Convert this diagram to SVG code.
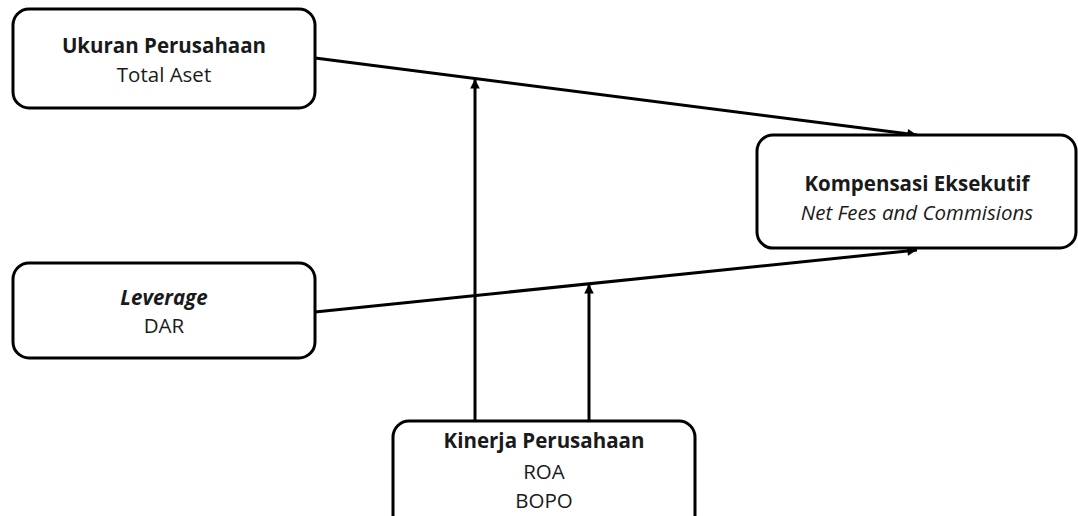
<svg xmlns="http://www.w3.org/2000/svg" width="1078" height="516" viewBox="0 0 1078 516">
<style>
.box{fill:#fff;stroke:#000;stroke-width:3}
.t{font-family:"Open Sans","Liberation Sans",sans-serif;font-size:20.5px;fill:#1a1a1a;text-anchor:middle}
.b{font-weight:bold}
.i{font-style:italic}
.c{fill:none;stroke:#000;stroke-width:3}
</style>
<defs>
<marker id="ah" viewBox="0 0 10 10" refX="10" refY="5" markerWidth="4" markerHeight="3.2" markerUnits="strokeWidth" orient="auto">
<path d="M0,0 L10,5 L0,10 Z" fill="#000"/>
</marker>
</defs>
<rect width="1078" height="516" fill="#fff"/>
<g id="connectors">
<line class="c" x1="315" y1="58" x2="917" y2="135" marker-end="url(#ah)"/>
<line class="c" x1="315" y1="312" x2="917" y2="250" marker-end="url(#ah)"/>
<line class="c" x1="475" y1="421" x2="475" y2="79" marker-end="url(#ah)"/>
<line class="c" x1="589" y1="421" x2="589" y2="284" marker-end="url(#ah)"/>
</g>
<g id="ukuran">
<rect class="box" x="13" y="9" width="302" height="99" rx="16"/>
<text class="t b" x="164" y="53">Ukuran Perusahaan</text>
<text class="t" x="164" y="82">Total Aset</text>
</g>
<g id="leverage">
<rect class="box" x="13" y="263" width="302" height="95" rx="16"/>
<text class="t b i" x="164" y="305">Leverage</text>
<text class="t" x="164" y="333">DAR</text>
</g>
<g id="kompensasi">
<rect class="box" x="757" y="135" width="319" height="113" rx="16"/>
<text class="t b" x="917" y="191">Kompensasi Eksekutif</text>
<text class="t i" x="917" y="220">Net Fees and Commisions</text>
</g>
<g id="kinerja">
<rect class="box" x="393" y="421" width="302" height="110" rx="16"/>
<text class="t b" x="544" y="448">Kinerja Perusahaan</text>
<text class="t" x="544" y="479">ROA</text>
<text class="t" x="544" y="508">BOPO</text>
</g>
</svg>
